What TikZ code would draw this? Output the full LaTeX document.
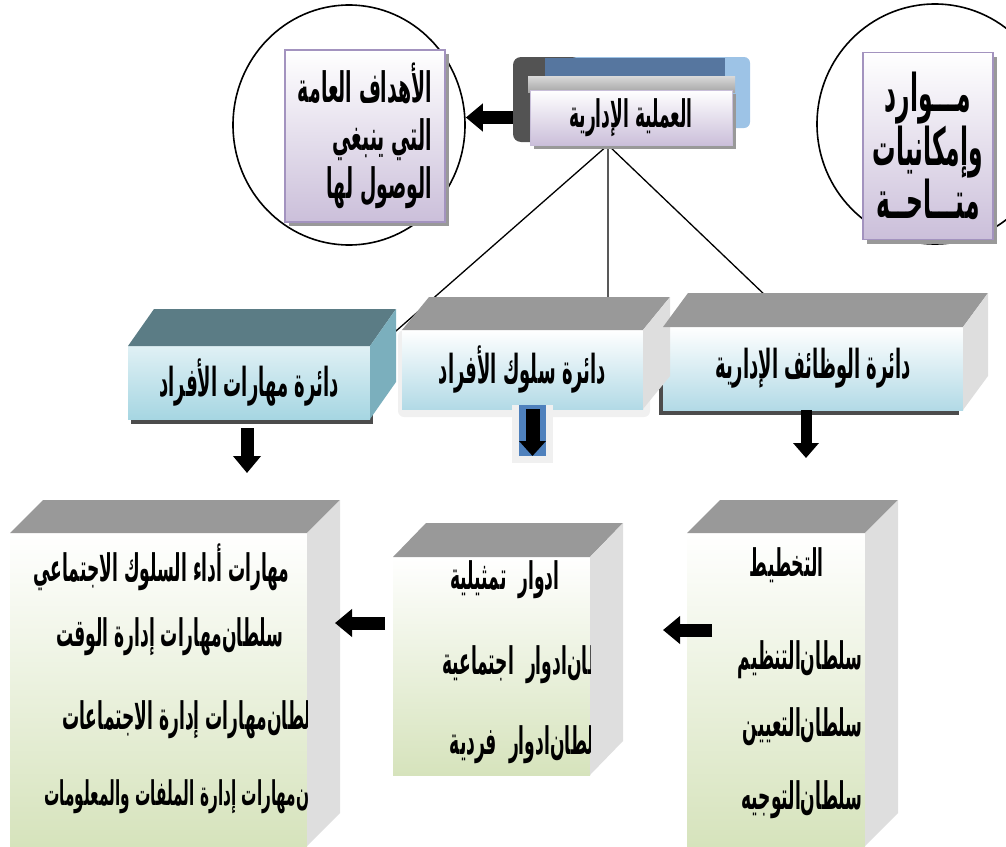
\documentclass[tikz,border=0pt]{standalone}
\usepackage{fontspec}
\newfontfamily\arabicfont[Script=Arabic,FakeStretch=0.45]{DejaVu Sans}
\TeXXeTstate=1
\usetikzlibrary{shapes.geometric,shadows,arrows.meta,backgrounds}

\definecolor{lavline}{HTML}{A393BF}
\definecolor{lavbot}{HTML}{CBBFDA}
\definecolor{tealtop}{HTML}{5B7C85}
\definecolor{tealside}{HTML}{7BAFBD}
\definecolor{tealfront}{HTML}{A6D6E2}
\definecolor{bluefront}{HTML}{B2DAE6}
\definecolor{greenfront}{HTML}{D6E3BC}
\definecolor{boxtop}{HTML}{999999}
\definecolor{boxside}{HTML}{DEDEDE}
\definecolor{skyblue}{HTML}{9DC3E6}
\definecolor{navyband}{HTML}{56769F}
\definecolor{arrowblue}{HTML}{4F81BD}

\begin{document}
\begin{tikzpicture}
  [x=1pt,y=-1pt,
   ar/.style 2 args={font=\arabicfont\bfseries\fontsize{#1}{#2}\selectfont},
   lavbox/.style={draw=lavline,line width=1.2pt,top color=white,bottom color=lavbot,
     drop shadow={shadow xshift=4pt,shadow yshift=-4pt,fill=gray!80,opacity=1}},
   face/.style={outer sep=0pt,inner sep=0pt},
   blkarrow/.style={line width=13pt,-{Triangle[length=17pt,width=27pt]}}]
  \useasboundingbox (0,0) rectangle (1006,846);
  \clip (0,0) rectangle (1006,846);

  % top row
  \node (gc) [ellipse,draw,line width=1.6pt,minimum width=232,minimum height=240] at (349,125) {};
  \node (g) [lavbox,minimum width=160,minimum height=172,ar={42}{48},align=right] at (365,136)
    {\beginR الأهداف العامة\endR\\ \beginR التي ينبغي\endR\\ \beginR الوصول لها\endR};
  \node (rc) [ellipse,draw,line width=1.6pt,minimum width=236,minimum height=240] at (935,124) {};
  \node (r) [lavbox,minimum width=130,minimum height=187,ar={52}{50},align=center] at (928,146)
    {\beginR مـــوارد\endR\\ \beginR وإمكانيات\endR\\ \beginR متـــاحــة\endR};

  \fill[skyblue,rounded corners=6] (543,57) rectangle (750,128);
  \fill[gray!65!black,rounded corners=8] (513,57) rectangle (580,142);
  \fill[navyband] (545,58) rectangle (725,95);
  \shade[top color=gray!30,bottom color=gray!70] (528,76) rectangle (735,92);
  \node (p) [lavbox,draw=lavline!60,line width=0.8pt,face,minimum width=202,minimum height=55,ar={38}{38}]
    at (631,117.5) {\beginR العملية الإدارية\endR};

  % second row
  \fill[gray!12,rounded corners=6] (398,330) rectangle (650,417);
  \node (2a) [face,minimum width=242,minimum height=73,top color=tealfront!35,bottom color=tealfront,
    drop shadow={shadow xshift=3pt,shadow yshift=-5pt,fill=gray!60!black,opacity=1},ar={40}{40}]
    at (249,382.5) {\beginR دائرة مهارات الأفراد\endR};
  \node (2b) [face,minimum width=241,minimum height=79,top color=white,bottom color=bluefront,ar={40}{40}]
    at (522.5,369.5) {\beginR دائرة سلوك الأفراد\endR};
  \node (2c) [face,minimum width=300,minimum height=83,top color=white,bottom color=bluefront,
    drop shadow={shadow xshift=-4pt,shadow yshift=-5pt,fill=gray!60!black,opacity=1},ar={40}{40}]
    at (813,368.5) {\beginR دائرة الوظائف الإدارية\endR};

  % third row
  \node (3a) [face,minimum width=297,minimum height=313,top color=white,bottom color=greenfront] at (158.5,689.5) {};
  \node (3b) [face,minimum width=197,minimum height=218,top color=white,bottom color=greenfront] at (491.5,666) {};
  \node (3c) [face,minimum width=178,minimum height=313,top color=white,bottom color=greenfront] at (776,689.5) {};

  \foreach \n/\dx/\dy/\tc/\sc in {2a/26/-37/tealtop/tealside,2b/27/-33/boxtop/boxside,
      2c/25/-34/boxtop/boxside,3a/33/-33/boxtop/boxside,3b/33/-34/boxtop/boxside,3c/33/-33/boxtop/boxside}{
    \fill[\tc] (\n.north west) -- ++(\dx,\dy) -- ([shift={(\dx,\dy)}]\n.north east) -- (\n.north east) -- cycle;
    \fill[\sc] (\n.north east) -- ++(\dx,\dy) -- ([shift={(\dx,\dy)}]\n.south east) -- (\n.south east) -- cycle;
  }

  \begin{scope}
    \clip (3a.north west) rectangle (3a.south east);
    \node (3a1) [ar={38}{38},anchor=east] at (293,567) {\beginR مهارات أداء السلوك الاجتماعي\endR};
    \node (3a2) [ar={38}{38},anchor=east] at (287,637) {\beginR سلطان^^^^200cمهارات إدارة الوقت\endR};
    \node (3a3) [ar={38}{38},anchor=east] at (332,720) {\beginR سلطان^^^^200cمهارات إدارة الاجتماعات\endR};
    \node (3a4) [ar={34}{34},anchor=east] at (355,797) {\beginR سلطان^^^^200cمهارات إدارة الملفات والمعلومات\endR};
  \end{scope}
  \begin{scope}
    \clip (3b.north west) rectangle (3b.south east);
    \node (3b1) [ar={38}{38},anchor=east] at (563,580) {\beginR ادوار\ \ تمثيلية\endR};
    \node (3b2) [ar={38}{38},anchor=east] at (632,665) {\beginR سلطان^^^^200cادوار\ \ اجتماعية\endR};
    \node (3b3) [ar={38}{38},anchor=east] at (615,745) {\beginR سلطان^^^^200cادوار\ \ فردية\endR};
  \end{scope}
  \begin{scope}
    \clip (3c.north west) rectangle (3c.south east);
    \node (3c1) [ar={38}{38},anchor=east] at (827,565) {\beginR التخطيط\endR};
    \node (3c2) [ar={38}{38},anchor=east] at (866,660) {\beginR سلطان^^^^200cالتنظيم\endR};
    \node (3c3) [ar={38}{38},anchor=east] at (866,727) {\beginR سلطان^^^^200cالتعيين\endR};
    \node (3c4) [ar={38}{38},anchor=east] at (866,800) {\beginR سلطان^^^^200cالتوجيه\endR};
  \end{scope}

  % connectors
  \coordinate (top) at ([xshift=-23pt]p.south);
  \coordinate (l1) at (380,345);
  \coordinate (l2) at (608,310);
  \coordinate (l3) at (790,319);
  \begin{scope}[on background layer]
    \draw[line width=1.3pt] (l1) -- (top) -- (l2) (top) -- (l3);
    \draw[blkarrow] (p.west) -- (p.west -| gc.east);
  \end{scope}

  \coordinate (a1) at (247,473);
  \coordinate (a2) at (532.5,456);
  \coordinate (a3) at (806,458);
  \coordinate (a4) at (663,630);
  \coordinate (a5) at (335,623);
  \fill[gray!12] (512,405) rectangle (553,463);
  \fill[arrowblue] (519,405) rectangle (546,456);
  \draw[blkarrow,shorten <=9pt] (a1 |- 2a.south) -- (a1);
  \draw[blkarrow,line width=14pt,-{Triangle[length=15pt,width=26pt]}] (a2 |- 2b.south) -- (a2);
  \draw[blkarrow,line width=11pt,-{Triangle[length=15pt,width=25pt]}] (a3 |- 2c.south) -- (a3);
  \draw[blkarrow,shorten <=-25pt] (a4 -| 3c.west) -- (a4);
  \draw[blkarrow,shorten <=8pt] (a5 -| 3b.west) -- (a5);
\end{tikzpicture}
\end{document}
